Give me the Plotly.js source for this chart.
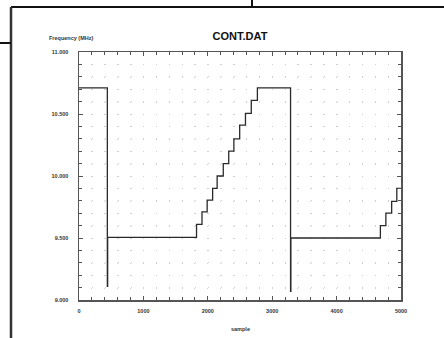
<!DOCTYPE html>
<html><head><meta charset="utf-8">
<script src="https://cdn.plot.ly/plotly-3.0.1.min.js"></script>
<style>html,body{margin:0;padding:0;background:#fff}#chart{width:444px;height:338px}</style>
</head><body><div id="chart"></div>
<script>
// Step-function data (sample index vs frequency in MHz)
const sample = [0, 440, 445, 1825, 1910, 1990, 2075, 2145, 2240, 2325, 2405, 2495, 2585, 2675, 2770, 3285, 3290, 4680, 4765, 4855, 4935, 5000];
const freq   = [10.71, 9.11, 9.505, 9.61, 9.71, 9.805, 9.90, 10.0, 10.10, 10.20, 10.30, 10.41, 10.505, 10.61, 10.71, 9.07, 9.50, 9.60, 9.70, 9.795, 9.90, 9.90];

const xTickVals = [0, 1000, 2000, 3000, 4000, 5000];
const xTickText = ['0', '1000', '2000', '3000', '4000', '5000'];
const yTickVals = [9, 9.5, 10, 10.5, 11];
const yTickText = ['9.000', '9.500', '10.000', '10.500', '11.000'];

const tickFont = {family: 'Liberation Sans, Arial, sans-serif', size: 5.5, color: '#333', weight: 'bold'};
const axisColor = '#555';
const gridColor = '#cfcfcf';

const trace = {
  x: sample, y: freq, type: 'scatter', mode: 'lines',
  line: {shape: 'hv', color: '#2a2a2a', width: 1.3},
  hoverinfo: 'skip'
};

const frame = {type: 'line', xref: 'paper', yref: 'paper', line: {color: '#111', width: 2}};
const layout = {
  width: 444, height: 338,
  margin: {l: 79, r: 43, t: 52, b: 38},
  paper_bgcolor: '#fff', plot_bgcolor: '#fff',
  showlegend: false,
  title: {text: 'CONT.DAT', x: 0.5, xref: 'paper', y: 1 - 36/338, yref: 'container', yanchor: 'middle',
          font: {family: 'Liberation Sans, Arial, sans-serif', size: 11, weight: 'bold', color: '#111'}},
  xaxis: {
    range: [0, 5000], tickvals: xTickVals, ticktext: xTickText,
    ticks: 'inside', ticklen: 4, tickcolor: axisColor, tickwidth: 1,
    showline: true, linecolor: axisColor, linewidth: 1.5, mirror: 'ticks',
    tickfont: tickFont, ticklabelstandoff: 5,
    showgrid: true, gridcolor: gridColor, gridwidth: 1, griddash: '1px,11.4px',
    zeroline: false, fixedrange: true,
    minor: {dtick: 200, ticks: 'inside', ticklen: 3, tickcolor: axisColor, showgrid: true, gridcolor: gridColor, griddash: '1px,11.4px'}
  },
  yaxis: {
    range: [9, 11], tickvals: yTickVals, ticktext: yTickText,
    ticks: 'inside', ticklen: 4, tickcolor: axisColor, tickwidth: 1,
    showline: true, linecolor: axisColor, linewidth: 1.5, mirror: 'ticks',
    tickfont: tickFont, ticklabelstandoff: 8,
    showgrid: true, gridcolor: gridColor, gridwidth: 1, griddash: '1px,11.88px',
    zeroline: false, fixedrange: true,
    minor: {dtick: 0.1, ticks: 'inside', ticklen: 3, tickcolor: axisColor, showgrid: true, gridcolor: gridColor, griddash: '1px,11.88px'}
  },
  annotations: [
    {text: 'Frequency (MHz)', xref: 'paper', yref: 'paper', x: (71 - 79) / 322, y: (300 - 38) / 248,
     showarrow: false, xanchor: 'center', yanchor: 'middle',
     font: {family: 'Liberation Sans, Arial, sans-serif', size: 5.5, color: '#333', weight: 'bold'}},
    {text: 'sample', xref: 'paper', yref: 'paper', x: 0.5, y: (300 - 329) / 248,
     showarrow: false, xanchor: 'center', yanchor: 'middle',
     font: {family: 'Liberation Sans, Arial, sans-serif', size: 5.5, color: '#333', weight: 'bold'}}
  ],
  shapes: [
    Object.assign({}, frame, {x0: (11 - 79) / 322, x1: (446 - 79) / 322, y0: (300 - 7) / 248, y1: (300 - 7) / 248}),
    Object.assign({}, frame, {x0: (11 - 79) / 322, x1: (11 - 79) / 322, y0: (300 - 7) / 248, y1: (300 - 340) / 248, line: {color: '#333', width: 2.5}}),
    Object.assign({}, frame, {x0: (-2 - 79) / 322, x1: (11 - 79) / 322, y0: (300 - 43) / 248, y1: (300 - 43) / 248}),
    Object.assign({}, frame, {x0: (252 - 79) / 322, x1: (252 - 79) / 322, y0: (300 + 2) / 248, y1: (300 - 7) / 248})
  ]
};

Plotly.newPlot('chart', [trace], layout, {displayModeBar: false, staticPlot: true});
</script>
</body></html>
